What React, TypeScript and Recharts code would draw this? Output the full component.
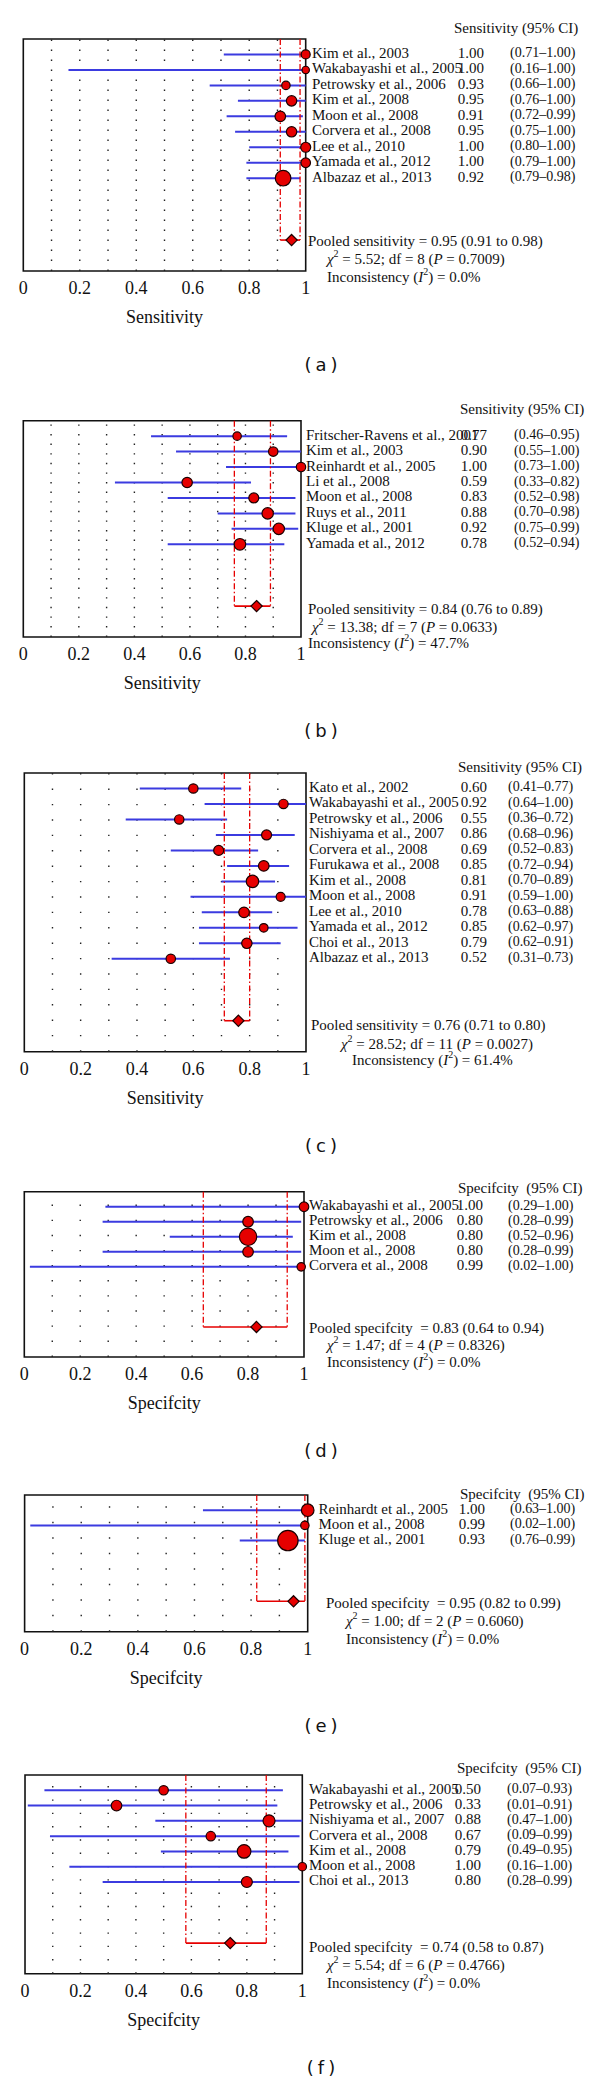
import React from 'react';
import { ScatterChart, Scatter, XAxis, YAxis, ReferenceLine, ReferenceArea } from 'recharts';

// ---------- Panel (a): sensitivity ----------
const aStudies = ['Kim et al., 2003', 'Wakabayashi et al., 2005', 'Petrowsky et al., 2006', 'Kim et al., 2008', 'Moon et al., 2008', 'Corvera et al., 2008', 'Lee et al., 2010', 'Yamada et al., 2012', 'Albazaz et al., 2013'];
const aEst = [1.0, 1.0, 0.93, 0.95, 0.91, 0.95, 1.0, 1.0, 0.92];
const aLow = [0.71, 0.16, 0.66, 0.76, 0.72, 0.75, 0.8, 0.79, 0.79];
const aHigh = [1.0, 1.0, 1.0, 1.0, 0.99, 1.0, 1.0, 1.0, 0.98];
const aWeight = [4.5, 3.7, 4.2, 5.2, 5.3, 5.2, 5.0, 4.8, 7.8];
const aPooled = [0.95, 0.91, 0.98];
const aChi = ['5.52', '8', '0.7009'];
const aI2 = '0.0%';

// ---------- Panel (b): sensitivity ----------
const bStudies = ['Fritscher-Ravens et al., 2001', 'Kim et al., 2003', 'Reinhardt et al., 2005', 'Li et al., 2008', 'Moon et al., 2008', 'Ruys et al., 2011', 'Kluge et al., 2001', 'Yamada et al., 2012'];
const bEst = [0.77, 0.9, 1.0, 0.59, 0.83, 0.88, 0.92, 0.78];
const bLow = [0.46, 0.55, 0.73, 0.33, 0.52, 0.7, 0.75, 0.52];
const bHigh = [0.95, 1.0, 1.0, 0.82, 0.98, 0.98, 0.99, 0.94];
const bWeight = [4.2, 4.7, 4.7, 5.2, 5.0, 5.7, 5.7, 5.8];
const bPooled = [0.84, 0.76, 0.89];
const bChi = ['13.38', '7', '0.0633'];
const bI2 = '47.7%';

// ---------- Panel (c): sensitivity ----------
const cStudies = ['Kato et al., 2002', 'Wakabayashi et al., 2005', 'Petrowsky et al., 2006', 'Nishiyama et al., 2007', 'Corvera et al., 2008', 'Furukawa et al., 2008', 'Kim et al., 2008', 'Moon et al., 2008', 'Lee et al., 2010', 'Yamada et al., 2012', 'Choi et al., 2013', 'Albazaz et al., 2013'];
const cEst = [0.6, 0.92, 0.55, 0.86, 0.69, 0.85, 0.81, 0.91, 0.78, 0.85, 0.79, 0.52];
const cLow = [0.41, 0.64, 0.36, 0.68, 0.52, 0.72, 0.7, 0.59, 0.63, 0.62, 0.62, 0.31];
const cHigh = [0.77, 1.0, 0.72, 0.96, 0.83, 0.94, 0.89, 1.0, 0.88, 0.97, 0.91, 0.73];
const cWeight = [4.7, 4.7, 4.7, 5.0, 5.0, 5.3, 6.2, 4.5, 5.3, 4.3, 5.2, 4.7];
const cPooled = [0.76, 0.71, 0.8];
const cChi = ['28.52', '11', '0.0027'];
const cI2 = '61.4%';

// ---------- Panel (d): specificity ----------
const dStudies = ['Wakabayashi et al., 2005', 'Petrowsky et al., 2006', 'Kim et al., 2008', 'Moon et al., 2008', 'Corvera et al., 2008'];
const dEst = [1.0, 0.8, 0.8, 0.8, 0.99];
const dLow = [0.29, 0.28, 0.52, 0.28, 0.02];
const dHigh = [1.0, 0.99, 0.96, 0.99, 1.0];
const dWeight = [4.8, 5.3, 8.7, 5.3, 4.2];
const dPooled = [0.83, 0.64, 0.94];
const dChi = ['1.47', '4', '0.8326'];
const dI2 = '0.0%';

// ---------- Panel (e): specificity ----------
const eStudies = ['Reinhardt et al., 2005', 'Moon et al., 2008', 'Kluge et al., 2001'];
const eEst = [1.0, 0.99, 0.93];
const eLow = [0.63, 0.02, 0.76];
const eHigh = [1.0, 1.0, 0.99];
const eWeight = [6.3, 4.2, 10.2];
const ePooled = [0.95, 0.82, 0.99];
const eChi = ['1.00', '2', '0.6060'];
const eI2 = '0.0%';

// ---------- Panel (f): specificity ----------
const fStudies = ['Wakabayashi et al., 2005', 'Petrowsky et al., 2006', 'Nishiyama et al., 2007', 'Corvera et al., 2008', 'Kim et al., 2008', 'Moon et al., 2008', 'Choi et al., 2013'];
const fEst = [0.5, 0.33, 0.88, 0.67, 0.79, 1.0, 0.8];
const fLow = [0.07, 0.01, 0.47, 0.09, 0.49, 0.16, 0.28];
const fHigh = [0.93, 0.91, 1.0, 0.99, 0.95, 1.0, 0.99];
const fWeight = [4.7, 5.3, 6.0, 4.7, 6.8, 4.2, 5.5];
const fPooled = [0.74, 0.58, 0.87];
const fChi = ['5.54', '6', '0.4766'];
const fI2 = '0.0%';

const xTickValues = [0, 0.2, 0.4, 0.5, 0.6, 0.8, 1];
const gridValues = [0.1, 0.2, 0.3, 0.4, 0.5, 0.6, 0.7, 0.8, 0.9];
const panelLetters = ['a', 'b', 'c', 'd', 'e', 'f'];

const SERIF = '"Liberation Serif", "Times New Roman", "DejaVu Serif", serif';
const RED = '#e60000';
const BLUE = '#3b3be0';

type PanelData = {
  studies: string[]; est: number[]; low: number[]; high: number[]; weight: number[];
  pooled: number[]; chi: string[]; i2: string; header: string; pooledWord: string; axisTitle: string;
};

const panels: PanelData[] = [
  { studies: aStudies, est: aEst, low: aLow, high: aHigh, weight: aWeight, pooled: aPooled, chi: aChi, i2: aI2, header: 'Sensitivity (95% CI)', pooledWord: 'Pooled sensitivity', axisTitle: 'Sensitivity' },
  { studies: bStudies, est: bEst, low: bLow, high: bHigh, weight: bWeight, pooled: bPooled, chi: bChi, i2: bI2, header: 'Sensitivity (95% CI)', pooledWord: 'Pooled sensitivity', axisTitle: 'Sensitivity' },
  { studies: cStudies, est: cEst, low: cLow, high: cHigh, weight: cWeight, pooled: cPooled, chi: cChi, i2: cI2, header: 'Sensitivity (95% CI)', pooledWord: 'Pooled sensitivity', axisTitle: 'Sensitivity' },
  { studies: dStudies, est: dEst, low: dLow, high: dHigh, weight: dWeight, pooled: dPooled, chi: dChi, i2: dI2, header: 'Specifcity  (95% CI)', pooledWord: 'Pooled specifcity ', axisTitle: 'Specifcity' },
  { studies: eStudies, est: eEst, low: eLow, high: eHigh, weight: eWeight, pooled: ePooled, chi: eChi, i2: eI2, header: 'Specifcity  (95% CI)', pooledWord: 'Pooled specifcity ', axisTitle: 'Specifcity' },
  { studies: fStudies, est: fEst, low: fLow, high: fHigh, weight: fWeight, pooled: fPooled, chi: fChi, i2: fI2, header: 'Specifcity  (95% CI)', pooledWord: 'Pooled specifcity ', axisTitle: 'Specifcity' },
];

// layout (pixel positions of page elements)
const layouts = [
  { boxL: 23.3, boxR: 305.7, boxTop: 39, boxBot: 271, headerY: 28, headerX: 454, nameX: 312, valR: 484, ciX: 510, pooledX: 308, pooledDy: 1, chiX: 327, chiDy: 19, incX: 327, incDy: 37, dotGap: 10 },
  { boxL: 23.3, boxR: 301, boxTop: 420.7, boxBot: 637, headerY: 409, headerX: 460, nameX: 306, valR: 487, ciX: 514, pooledX: 308, pooledDy: 3, chiX: 312, chiDy: 21, incX: 308, incDy: 37, dotGap: 9.6 },
  { boxL: 24.3, boxR: 306, boxTop: 773, boxBot: 1051.7, headerY: 767, headerX: 458, nameX: 309, valR: 487, ciX: 508, pooledX: 311, pooledDy: 4, chiX: 341, chiDy: 23, incX: 352, incDy: 39, dotGap: 15.4 },
  { boxL: 24.3, boxR: 304, boxTop: 1191.7, boxBot: 1357, headerY: 1188, headerX: 458, nameX: 309, valR: 483, ciX: 508, pooledX: 309, pooledDy: 1, chiX: 327, chiDy: 18, incX: 327, incDy: 35, dotGap: 15.1 },
  { boxL: 24.6, boxR: 307.7, boxTop: 1495, boxBot: 1631.7, headerY: 1494, headerX: 460, nameX: 318.5, valR: 485, ciX: 510, pooledX: 326, pooledDy: 2, chiX: 346, chiDy: 20, incX: 346, incDy: 38, dotGap: 15.5 },
  { boxL: 25, boxR: 302.3, boxTop: 1775, boxBot: 1973.7, headerY: 1768, headerX: 457, nameX: 309, valR: 481, ciX: 507, pooledX: 309, pooledDy: 4, chiX: 327, chiDy: 22, incX: 327, incDy: 40, dotGap: 13.3 },
];

const fmtTick = (v: number) => (v === 0 ? '0' : v === 1 ? '1' : String(v));

const CircleShape = (props: any) => {
  const { cx, cy, payload } = props;
  if (cx == null || cy == null) return <g />;
  return <circle cx={cx} cy={cy} r={payload.r} fill={RED} stroke="#1a0000" strokeWidth={1.2} />;
};

const DiamondShape = (props: any) => {
  const { cx, cy } = props;
  if (cx == null || cy == null) return <g />;
  const s = 5.6;
  return <polygon points={`${cx},${cy - s} ${cx + s},${cy} ${cx},${cy + s} ${cx - s},${cy}`} fill={RED} stroke="#1a0000" strokeWidth={1.2} />;
};

function ForestPanel({ d, L, letter }: { d: PanelData; L: any; letter: string }) {
  const n = d.studies.length;
  const pooledRow = n + 3;
  const yMax = n + 5;
  const chartTop = L.headerY - 14;
  const axisH = 64;
  const H = L.boxBot - chartTop + axisH;
  const points = d.est.map((e, i) => ({ x: e, y: i, r: d.weight[i] }));
  const pooledPt = [{ x: d.pooled[0], y: pooledRow }];
  const yTicks = [-1, ...d.studies.map((_, i) => i), pooledRow];
  const tickLabelY = L.boxBot - chartTop + 17;
  const titleY = L.boxBot - chartTop + 46;
  const textStyle: any = { fontFamily: SERIF, fill: '#111', whiteSpace: 'pre' };

  const renderXTick = (tp: any) => {
    const v = tp.payload.value;
    if (v === 0.5) {
      return (
        <text x={tp.x} y={titleY} textAnchor="middle" dominantBaseline="central" style={textStyle} fontSize={18}>{d.axisTitle}</text>
      );
    }
    return (
      <text x={tp.x} y={tickLabelY} textAnchor="middle" dominantBaseline="central" style={textStyle} fontSize={18}>{fmtTick(v)}</text>
    );
  };

  const renderYTick = (tp: any) => {
    const v = tp.payload.value;
    const y = tp.y;
    if (v === -1) {
      return (
        <text x={L.headerX} y={L.headerY - chartTop} dominantBaseline="central" style={textStyle} fontSize={15}>{d.header}</text>
      );
    }
    if (v === pooledRow) {
      return (
        <g>
          <text x={L.pooledX} y={y + L.pooledDy} dominantBaseline="central" style={textStyle} fontSize={15}>
            {`${d.pooledWord} = ${d.pooled[0].toFixed(2)} (${d.pooled[1].toFixed(2)} to ${d.pooled[2].toFixed(2)})`}
          </text>
          <text x={L.chiX} y={y + L.chiDy} dominantBaseline="central" style={textStyle} fontSize={15}>
            <tspan fontStyle="italic">χ</tspan>
            <tspan dy={-6} fontSize={10}>2</tspan>
            <tspan dy={6}>{` = ${d.chi[0]}; df = ${d.chi[1]} (`}</tspan>
            <tspan fontStyle="italic">P</tspan>
            <tspan>{` = ${d.chi[2]})`}</tspan>
          </text>
          <text x={L.incX} y={y + L.incDy} dominantBaseline="central" style={textStyle} fontSize={15}>
            <tspan>{'Inconsistency ('}</tspan>
            <tspan fontStyle="italic">I</tspan>
            <tspan dy={-6} fontSize={10}>2</tspan>
            <tspan dy={6}>{`) = ${d.i2}`}</tspan>
          </text>
        </g>
      );
    }
    const i = v as number;
    return (
      <g>
        <text x={L.nameX} y={y - 1.5} dominantBaseline="central" style={textStyle} fontSize={15}>{d.studies[i]}</text>
        <text x={L.valR} y={y - 1.5} textAnchor="end" dominantBaseline="central" style={textStyle} fontSize={15}>{d.est[i].toFixed(2)}</text>
        <text x={L.ciX} y={y - 1.5} dominantBaseline="central" style={textStyle} fontSize={14}>{`(${d.low[i].toFixed(2)}–${d.high[i].toFixed(2)})`}</text>
      </g>
    );
  };

  return (
    <>
      <div style={{ position: 'absolute', left: 0, top: chartTop, width: 600, height: H }}>
        <ScatterChart width={600} height={H} margin={{ top: L.boxTop - chartTop, right: 0, bottom: 0, left: L.boxL }}>
          <XAxis type="number" dataKey="x" domain={[0, 1]} ticks={xTickValues} interval={0} axisLine={false} tickLine={false} tickSize={0} tickMargin={0} height={axisH} tick={renderXTick} />
          <YAxis type="number" dataKey="y" domain={[-1, yMax]} reversed orientation="right" width={600 - L.boxR} ticks={yTicks} interval={0} axisLine={false} tickLine={false} tickSize={0} tickMargin={0} tick={renderYTick} />
          <ReferenceArea x1={0} x2={1} y1={-1} y2={yMax} fill="none" fillOpacity={0} stroke="#111" strokeWidth={1.6} ifOverflow="visible" />
          {gridValues.map((g) => (
            <ReferenceLine key={`g${g}`} x={g} stroke="#222" strokeWidth={1.4} strokeDasharray={`1.4 ${L.dotGap - 1.4}`} ifOverflow="visible" />
          ))}
          <Scatter data={points} shape={CircleShape} isAnimationActive={false} />
          {d.studies.map((_, i) => (
            <ReferenceLine key={`ci${i}`} segment={[{ x: d.low[i], y: i }, { x: d.high[i], y: i }]} stroke={BLUE} strokeWidth={2} ifOverflow="visible" />
          ))}
          <ReferenceLine segment={[{ x: d.pooled[1], y: -1 }, { x: d.pooled[1], y: pooledRow }]} stroke={RED} strokeWidth={1.3} strokeDasharray="6 2.5 1.5 2.5" ifOverflow="visible" />
          <ReferenceLine segment={[{ x: d.pooled[2], y: -1 }, { x: d.pooled[2], y: pooledRow }]} stroke={RED} strokeWidth={1.3} strokeDasharray="6 2.5 1.5 2.5" ifOverflow="visible" />
          <ReferenceLine segment={[{ x: d.pooled[1], y: pooledRow }, { x: d.pooled[2], y: pooledRow }]} stroke={RED} strokeWidth={1.6} ifOverflow="visible" />
          <Scatter data={pooledPt} shape={DiamondShape} isAnimationActive={false} />
        </ScatterChart>
      </div>
      <div style={{ position: 'absolute', left: 273, width: 100, top: L.boxBot + 94 - 12, height: 24, textAlign: 'center', fontFamily: '"DejaVu Sans", sans-serif', fontSize: 18, letterSpacing: 4, lineHeight: '24px', color: '#111' }}>
        {`(${letter})`}
      </div>
    </>
  );
}

export default function App() {
  return (
    <div style={{ position: 'absolute', left: 0, top: 0, width: 600, height: 2083, background: '#fff', overflow: 'hidden' }}>
      {panels.map((d, k) => (
        <ForestPanel key={k} d={d} L={layouts[k]} letter={panelLetters[k]} />
      ))}
    </div>
  );
}
